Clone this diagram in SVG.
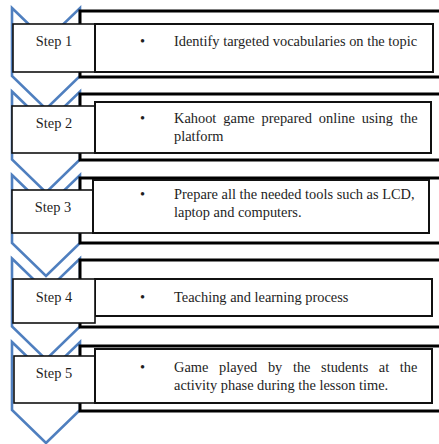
<svg xmlns="http://www.w3.org/2000/svg" width="439" height="444" viewBox="0 0 439 444">
<style>
.chev{fill:#ffffff;stroke:#4f7fbf;stroke-width:2.6;stroke-linejoin:miter}
.outer{fill:#ffffff;stroke:#000;stroke-width:3}
.stepbox{fill:#ffffff;stroke:#111;stroke-width:1.6}
.textbox{fill:#ffffff;stroke:#111;stroke-width:2}
text{font-family:"Liberation Serif","Times New Roman",serif;font-size:14.4px;fill:#1e1e1e}
.lbl{text-anchor:middle}
</style>
<rect width="439" height="444" fill="#ffffff"/>
<g id="connectors"/>
<g id="step1">
<path class="chev" d="M12,8 L46,41 L80,8 L80,76 L46,109 L12,76 Z"/>
<rect class="outer" x="80" y="11" width="370" height="66"/>
<rect class="stepbox" x="13" y="24" width="82" height="48"/>
<rect class="textbox" x="95" y="24" width="338" height="48"/>
<text class="lbl" x="54" y="46">Step 1</text>
<text x="140" y="46">•</text>
<text x="174" y="46">Identify targeted vocabularies on the topic</text>
</g>
<g id="step2">
<path class="chev" d="M12,91.5 L46,124.5 L80,91.5 L80,159.5 L46,192.5 L12,159.5 Z"/>
<rect class="outer" x="80" y="94" width="370" height="66"/>
<rect class="stepbox" x="12" y="106" width="83" height="47"/>
<rect class="textbox" x="95" y="102" width="336" height="51"/>
<text class="lbl" x="54" y="128">Step 2</text>
<text x="140" y="123">•</text>
<text x="174" y="123" word-spacing="3.4">Kahoot game prepared online using the</text>
<text x="174" y="141">platform</text>
</g>
<g id="step3">
<path class="chev" d="M12,175 L46,208 L80,175 L80,243 L46,276 L12,243 Z"/>
<rect class="outer" x="80" y="178" width="370" height="65"/>
<rect class="stepbox" x="12" y="190" width="81" height="43"/>
<rect class="textbox" x="93" y="180" width="336" height="53"/>
<text class="lbl" x="53" y="212">Step 3</text>
<text x="140" y="199">•</text>
<text x="174" y="199">Prepare all the needed tools such as LCD,</text>
<text x="174" y="217">laptop and computers.</text>
</g>
<g id="step4">
<path class="chev" d="M12,258.5 L46,291.5 L80,258.5 L80,326.5 L46,359.5 L12,326.5 Z"/>
<rect class="outer" x="80" y="260" width="370" height="67"/>
<rect class="textbox" x="95" y="279" width="337" height="37"/>
<rect class="stepbox" x="13" y="279" width="82" height="44"/>
<text class="lbl" x="54" y="302">Step 4</text>
<text x="140" y="302">•</text>
<text x="174" y="302">Teaching and learning process</text>
</g>
<g id="step5">
<path class="chev" d="M12,342 L46,375 L80,342 L80,410 L46,443 L12,410 Z"/>
<rect class="outer" x="80" y="346" width="370" height="65"/>
<rect class="stepbox" x="14" y="356" width="81" height="47"/>
<rect class="textbox" x="95" y="349" width="337" height="54"/>
<text class="lbl" x="54" y="378">Step 5</text>
<text x="140" y="372">•</text>
<text x="174" y="372" word-spacing="7">Game played by the students at the</text>
<text x="174" y="390">activity phase during the lesson time.</text>
</g>
</svg>
